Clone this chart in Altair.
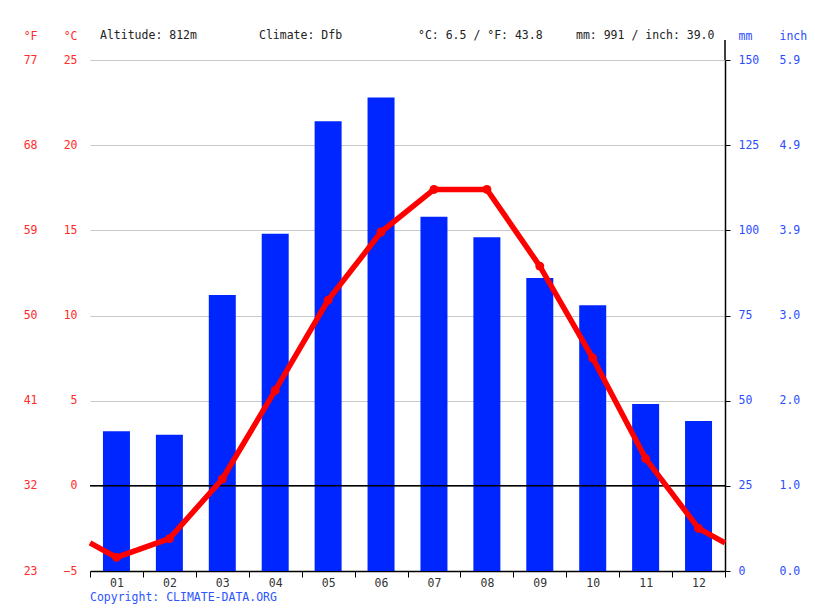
import altair as alt
import pandas as pd

# ---- data ----
months = [1, 2, 3, 4, 5, 6, 7, 8, 9, 10, 11, 12]
temp_c = [-4.2, -3.1, 0.4, 5.6, 10.9, 14.9, 17.4, 17.4, 12.9, 7.5, 1.6, -2.5]
precip_mm = [41, 40, 81, 99, 132, 139, 104, 98, 86, 78, 49, 44]
c_ticks = [-5, 0, 5, 10, 15, 20, 25]
mm_ticks = [0, 25, 50, 75, 100, 125, 150]
header_altitude = "Altitude: 812m"
header_climate = "Climate: Dfb"
header_temp = "°C: 6.5 / °F: 43.8"
header_precip = "mm: 991 / inch: 39.0"
copyright_text = "Copyright: CLIMATE-DATA.ORG"

df = pd.DataFrame({"month": months, "temp": temp_c, "precip": precip_mm})
# line continues to the plot edges (wrap-around between Dec and Jan)
wrap = (temp_c[-1] + temp_c[0]) / 2
line_df = pd.DataFrame({"month": [0.5] + months + [12.5],
                        "temp": [wrap] + temp_c + [wrap]})
one = pd.DataFrame({"k": [0]})

FONT = "DejaVu Sans Mono"
FS = 11.5
RED = "#ff0000"
RED_LBL = "#ff2a2a"
BLUE = "#0026ff"
BLUE_LBL = "#2b4dff"

xscale = alt.Scale(domain=[0.5, 12.5], nice=False, zero=False, padding=0)
tscale = alt.Scale(domain=[-5, 25], nice=False, zero=False)
pscale = alt.Scale(domain=[0, 150], nice=False, zero=True)

bars = alt.Chart(df).mark_bar(size=27, color=BLUE).encode(
    x=alt.X("month:Q", scale=xscale,
            axis=alt.Axis(orient="bottom", values=[m - 0.5 for m in months] + [12.5],
                          labels=False, ticks=True, tickSize=6, tickColor="black",
                          domainColor="black", domainWidth=1.5, grid=False, title=None)),
    y=alt.Y("precip:Q", scale=pscale,
            axis=alt.Axis(orient="right", values=mm_ticks, ticks=True, tickSize=5,
                          tickColor="black", domainColor="black", domainWidth=1.5,
                          labelColor=BLUE_LBL, labelPadding=8, grid=False,
                          title="mm", titleAngle=0, titleAlign="left",
                          titleBaseline="middle", titleX=13, titleY=-24,
                          titleColor=BLUE_LBL, titleFontWeight="normal")),
)

inch_carrier = alt.Chart(df).mark_bar(size=27, opacity=0).encode(
    x=alt.X("month:Q", scale=xscale, axis=None),
    y=alt.Y("precip:Q", scale=pscale,
            axis=alt.Axis(orient="right", offset=41, values=mm_ticks,
                          labelExpr="format(datum.value / 25.4, '.1f')",
                          ticks=False, domain=False, grid=False, labelPadding=13,
                          labelColor=BLUE_LBL, title="inch", titleAngle=0,
                          titleAlign="left", titleBaseline="middle", titleX=13,
                          titleY=-24, titleColor=BLUE_LBL, titleFontWeight="normal")),
)

f_carrier = alt.Chart(df).mark_point(opacity=0).encode(
    x=alt.X("month:Q", scale=xscale,
            axis=alt.Axis(orient="bottom", values=months,
                          labelExpr="datum.value < 10 ? '0' + datum.value : '' + datum.value",
                          ticks=False, domain=False, grid=False, labelPadding=6,
                          labelColor="#333333", title=None)),
    y=alt.Y("temp:Q", scale=tscale,
            axis=alt.Axis(orient="left", offset=40, values=c_ticks,
                          labelExpr="format(datum.value * 9 / 5 + 32, 'd')",
                          ticks=False, domain=False, grid=False, labelPadding=13,
                          labelColor=RED_LBL, title="°F", titleAngle=0,
                          titleAlign="right", titleBaseline="middle", titleX=-13,
                          titleY=-24, titleColor=RED_LBL, titleFontWeight="normal")),
)

zero_rule = alt.Chart(one).mark_rule(color="black", strokeWidth=1.5).encode(
    y=alt.Y("k:Q", scale=tscale, axis=None)
)

right_line = alt.Chart(one).mark_rule(color="black", strokeWidth=1.5).encode(
    x=alt.value(635), y=alt.value(-20), y2=alt.value(0)
)

line = alt.Chart(line_df).mark_line(color=RED, strokeWidth=5.5).encode(
    x=alt.X("month:Q", scale=xscale, axis=None),
    y=alt.Y("temp:Q", scale=tscale,
            axis=alt.Axis(orient="left", values=c_ticks, ticks=False, domain=False,
                          grid=True, gridColor="#c8c8c8", gridWidth=1, zindex=0,
                          labelPadding=13, labelColor=RED_LBL, title="°C",
                          titleAngle=0, titleAlign="right", titleBaseline="middle",
                          titleX=-13, titleY=-24, titleColor=RED_LBL,
                          titleFontWeight="normal")),
)

points = alt.Chart(df).mark_circle(color=RED, size=80, opacity=1).encode(
    x=alt.X("month:Q", scale=xscale, axis=None),
    y=alt.Y("temp:Q", scale=tscale, axis=None),
)

def label(text, x, y, color="#222222"):
    return alt.Chart(one).mark_text(align="left", baseline="middle", font=FONT,
                                    fontSize=FS, color=color).encode(
        x=alt.value(x), y=alt.value(y), text=alt.value(text))

texts = [
    label(header_altitude, 10, -24),
    label(header_climate, 169, -24),
    label(header_temp, 328, -24),
    label(header_precip, 486, -24),
    label(copyright_text, 0, 538, color="#2b55ff"),
]

chart = alt.layer(bars, inch_carrier, f_carrier, zero_rule, right_line, line, points,
                  *texts).resolve_scale(
    x="shared", y="independent"
).resolve_axis(
    x="independent", y="independent"
).properties(
    width=635, height=511,
    autosize=alt.AutoSizeParams(type="none"),
    padding={"left": 82, "top": 52, "right": 82, "bottom": 38},
    background="white",
).configure_view(stroke=None).configure_axis(
    labelFont=FONT, labelFontSize=FS, titleFont=FONT, titleFontSize=FS
)

chart.save("out.html", embed_options={"renderer": "svg", "actions": False})
